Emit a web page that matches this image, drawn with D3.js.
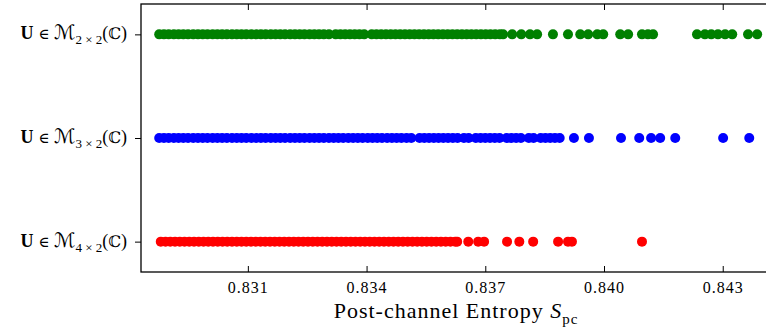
<!DOCTYPE html>
<html>
<head>
<meta charset="utf-8">
<script src="https://cdn.jsdelivr.net/npm/d3@7"></script>
<style>
  body { margin: 0; background: #fff; }
  svg { display: block; }
  text { font-family: "Liberation Serif", "DejaVu Serif", serif; fill: #000; }
</style>
</head>
<body>
<div id="chart"></div>
<script>
// rows from top to bottom: U in M_{n x 2}(C)
let rowDims = ["2", "3", "4"];
let rowColors = ["#008000", "#0000ff", "#ff0000"];

let tickValues = [0.831, 0.834, 0.837, 0.840, 0.843];
let tickLabels = ["0.831", "0.834", "0.837", "0.840", "0.843"];

// post-channel entropy samples
let entropy2x2 = [
  0.82876, 0.82888, 0.82900, 0.82913, 0.82925, 0.82937, 0.82949, 0.82962, 0.82974, 0.82986,
  0.82998, 0.83011, 0.83023, 0.83035, 0.83047, 0.83060, 0.83072, 0.83084, 0.83096, 0.83109,
  0.83121, 0.83133, 0.83145, 0.83158, 0.83170, 0.83182, 0.83194, 0.83207, 0.83219, 0.83231,
  0.83243, 0.83256, 0.83268, 0.83280, 0.83292, 0.83305, 0.83322, 0.83334, 0.83346, 0.83358,
  0.83370, 0.83382, 0.83394, 0.83413, 0.83425, 0.83437, 0.83449, 0.83461, 0.83473, 0.83485,
  0.83497, 0.83509, 0.83521, 0.83533, 0.83545, 0.83557, 0.83569, 0.83581, 0.83593, 0.83605,
  0.83617, 0.83629, 0.83641, 0.83653, 0.83665, 0.83677, 0.83689, 0.83701, 0.83713, 0.83725,
  0.83737, 0.83745,
  0.83768, 0.83791, 0.83813, 0.83831, 0.83871, 0.83909, 0.83940, 0.83960, 0.83983, 0.83998,
  0.84041, 0.84061, 0.84096, 0.84111, 0.84124, 0.84235, 0.84255, 0.84271, 0.84288, 0.84306,
  0.84324, 0.84364, 0.84387
];

let entropy3x2 = [
  0.82876, 0.82888, 0.82900, 0.82913, 0.82925, 0.82937, 0.82949, 0.82962, 0.82974, 0.82986,
  0.82998, 0.83011, 0.83023, 0.83035, 0.83047, 0.83060, 0.83072, 0.83084, 0.83096, 0.83109,
  0.83121, 0.83133, 0.83145, 0.83158, 0.83170, 0.83182, 0.83194, 0.83207, 0.83219, 0.83231,
  0.83243, 0.83256, 0.83268, 0.83280, 0.83292, 0.83305, 0.83317, 0.83329, 0.83341, 0.83354,
  0.83366, 0.83378, 0.83390, 0.83403, 0.83415, 0.83427, 0.83439, 0.83452, 0.83464, 0.83476,
  0.83488, 0.83501, 0.83513, 0.83534, 0.83546, 0.83558, 0.83570, 0.83582, 0.83594, 0.83606,
  0.83618, 0.83630, 0.83646, 0.83658, 0.83676, 0.83688, 0.83700, 0.83712, 0.83724, 0.83736,
  0.83754, 0.83766, 0.83778, 0.83790, 0.83810, 0.83822, 0.83840, 0.83852, 0.83864, 0.83876,
  0.83888,
  0.83924, 0.83962, 0.84043, 0.84089, 0.84119, 0.84142, 0.84180, 0.84301, 0.84367
];

let entropy4x2 = [
  0.82880, 0.82892, 0.82904, 0.82916, 0.82928, 0.82940, 0.82952, 0.82964, 0.82976, 0.82988,
  0.83000, 0.83012, 0.83024, 0.83036, 0.83048, 0.83060, 0.83072, 0.83084, 0.83096, 0.83108,
  0.83120, 0.83132, 0.83144, 0.83156, 0.83168, 0.83180, 0.83192, 0.83204, 0.83216, 0.83228,
  0.83240, 0.83252, 0.83264, 0.83276, 0.83288, 0.83300, 0.83312, 0.83324, 0.83336, 0.83348,
  0.83360, 0.83372, 0.83384, 0.83396, 0.83408, 0.83420, 0.83432, 0.83444, 0.83456, 0.83468,
  0.83480, 0.83492, 0.83504, 0.83516, 0.83528, 0.83540, 0.83552, 0.83564, 0.83576, 0.83588,
  0.83600, 0.83612, 0.83624, 0.83629,
  0.83657, 0.83682, 0.83697, 0.83755, 0.83786, 0.83821, 0.83884, 0.83909, 0.83919, 0.84096
];

let rowValues = [entropy2x2, entropy3x2, entropy4x2];

let svgWidth = 766;
let svgHeight = 329;

// plot frame (right edge falls outside the window, like the reference)
let frame = { left: 141, right: 771, top: 4, bottom: 272 };

let svg = d3.select("#chart")
  .append("svg")
  .attr("width", svgWidth)
  .attr("height", svgHeight);

let x = d3.scaleLinear()
  .domain([0.8283, 0.84422])
  .range([frame.left, frame.right]);

let y = d3.scalePoint()
  .domain(rowDims)
  .range([frame.top, frame.bottom])
  .padding(0.293);

// dots
rowDims.forEach((dim, i) => {
  svg.append("g")
    .selectAll("circle")
    .data(rowValues[i])
    .enter()
    .append("circle")
      .attr("cx", d => x(d))
      .attr("cy", y(dim))
      .attr("r", 5)
      .attr("fill", rowColors[i]);
});

// bottom axis, ticks pointing in
let bottomAxis = d3.axisBottom(x)
  .tickValues(tickValues)
  .tickFormat((d, i) => tickLabels[i])
  .tickSizeInner(-6)
  .tickSizeOuter(0)
  .tickPadding(10);

let gx = svg.append("g")
  .attr("transform", `translate(0, ${frame.bottom})`)
  .attr("font-family", "Liberation Serif, DejaVu Serif, serif")
  .call(bottomAxis);
gx.select(".domain").remove();
gx.selectAll("line").attr("stroke", "#000").attr("stroke-width", 1);
gx.selectAll("text")
  .attr("font-size", 16)
  .attr("letter-spacing", 1);

// top ticks, pointing in
let topAxis = d3.axisTop(x)
  .tickValues(tickValues)
  .tickFormat("")
  .tickSizeInner(-6)
  .tickSizeOuter(0);

let gTop = svg.append("g")
  .attr("transform", `translate(0, ${frame.top})`)
  .call(topAxis);
gTop.select(".domain").remove();
gTop.selectAll("line").attr("stroke", "#000");

// left ticks, pointing out
let leftAxis = d3.axisLeft(y)
  .tickFormat("")
  .tickSizeInner(6)
  .tickSizeOuter(0);

let gy = svg.append("g")
  .attr("transform", `translate(${frame.left}, 0)`)
  .call(leftAxis);
gy.select(".domain").remove();
gy.selectAll("line").attr("stroke", "#000");

// frame
svg.append("rect")
  .attr("x", frame.left)
  .attr("y", frame.top)
  .attr("width", frame.right - frame.left)
  .attr("height", frame.bottom - frame.top)
  .attr("fill", "none")
  .attr("stroke", "#000")
  .attr("stroke-width", 1.3);

// row labels
rowDims.forEach(dim => {
  let t = svg.append("text")
    .attr("x", 127)
    .attr("y", y(dim) + 5)
    .attr("text-anchor", "end")
    .attr("font-size", 18);
  t.append("tspan").attr("font-weight", "bold").text("U");
  t.append("tspan").attr("font-family", "DejaVu Serif").attr("font-size", 15).text(" \u2208 ");
  t.append("tspan").attr("font-family", "DejaVu Sans").attr("font-style", "italic")
    .attr("font-size", 20).text("\u2133");
  t.append("tspan").attr("font-size", 13).attr("dy", 5).text(`${dim} \u00d7 2`);
  t.append("tspan").attr("dy", -5).text("(");
  t.append("tspan").attr("font-family", "DejaVu Serif").attr("font-size", 16).text("\u2102");
  t.append("tspan").text(")");
});

// x axis title
let title = svg.append("text")
  .attr("x", (frame.left + frame.right) / 2)
  .attr("y", 318)
  .attr("text-anchor", "middle")
  .attr("font-size", 22)
  .attr("letter-spacing", 1);
title.append("tspan").text("Post-channel Entropy ");
title.append("tspan").attr("font-style", "italic").text("S");
title.append("tspan").attr("font-size", 15).attr("dy", 6).text("pc");
</script>
</body>
</html>
